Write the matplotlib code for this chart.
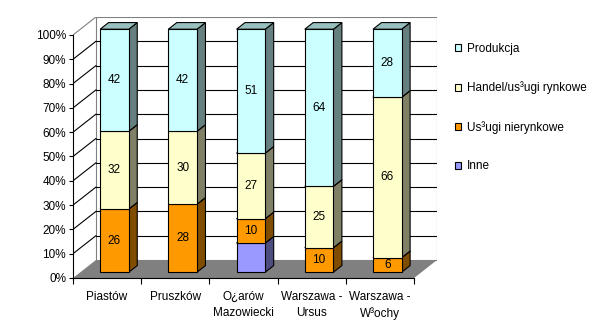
import numpy as np
import matplotlib.pyplot as plt
from matplotlib.patches import Polygon, Patch

plt.rcParams['font.family'] = ['Liberation Sans', 'DejaVu Sans']

#================================== Data =================================================================

categories = ['Piastów', 'Pruszków', 'O¿arów\nMazowiecki', 'Warszawa -\nUrsus', 'Warszawa -\nW³ochy']
series = ['Inne', 'Us³ugi nierynkowe', 'Handel/us³ugi rynkowe', 'Produkcja']
inne = [0, 0, 12, 0, 0]
uslugi_nierynkowe = [26, 28, 10, 10, 6]
handel = [32, 30, 27, 25, 66]
produkcja = [42, 42, 51, 64, 28]
show_labels = [False, True, True, True]

colors = ['#9999FF', '#FF9900', '#FFFFCC', '#CCFFFF']
yticks = np.arange(0, 101, 10)

#================================== Geometry =================================================================

DX = 0.336      # depth offset in category units
DY = 7.4        # depth offset in percent units
z_front, z_back = 0.32, 0.69
bar_w = 0.42

def shade(c, f):
    c = np.array([int(c[i:i + 2], 16) for i in (1, 3, 5)]) / 255.0
    return tuple(c * f)

def p(x, y, z):
    return (x + z * DX, y + z * DY)

fig = plt.figure(figsize=(6.16, 3.35), dpi=100)
ax = fig.add_axes([73 / 616, 57 / 335, 364 / 616, 261 / 335])
ax.set_xlim(0, 5 + DX)
ax.set_ylim(0, 100 + DY)
ax.patch.set_visible(False)

# floor
ax.add_patch(Polygon([p(0, 0, 0), p(5, 0, 0), p(5, 0, 1), p(0, 0, 1)],
                     closed=True, facecolor='#808080', edgecolor='none', zorder=1))
# back wall border
ax.add_patch(Polygon([p(0, 0, 1), p(5, 0, 1), p(5, 100, 1), p(0, 100, 1)],
                     closed=True, facecolor='none', edgecolor='#808080', lw=0.8, zorder=1))
# gridlines on back and side walls
for v in yticks[1:]:
    col = '#808080' if v == 100 else 'black'
    a, b = p(0, v, 0), p(0, v, 1)
    ax.plot([a[0], b[0]], [a[1], b[1]], color=col, lw=0.8, zorder=1)
    if v < 100:
        c = p(5, v, 1)
        ax.plot([b[0], c[0]], [b[1], c[1]], color='black', lw=0.8, zorder=1)

# bars
data = np.array([inne, uslugi_nierynkowe, handel, produkcja], dtype=float)
data_pct = data / data.sum(axis=0) * 100
for i in range(len(categories)):
    xl = i + 0.5 - bar_w / 2
    xr = i + 0.5 + bar_w / 2
    bottom = 0.0
    for s in range(len(series)):
        h = data_pct[s, i]
        if h <= 0:
            continue
        top = bottom + h
        c = colors[s]
        front = [p(xl, bottom, z_front), p(xr, bottom, z_front), p(xr, top, z_front), p(xl, top, z_front)]
        side = [p(xr, bottom, z_front), p(xr, bottom, z_back), p(xr, top, z_back), p(xr, top, z_front)]
        lid = [p(xl, top, z_front), p(xr, top, z_front), p(xr, top, z_back), p(xl, top, z_back)]
        ax.add_patch(Polygon(side, closed=True, facecolor=shade(c, 0.5), edgecolor='black', lw=0.8, zorder=3))
        ax.add_patch(Polygon(lid, closed=True, facecolor=shade(c, 0.75), edgecolor='black', lw=0.8, zorder=3))
        ax.add_patch(Polygon(front, closed=True, facecolor=c, edgecolor='black', lw=0.8, zorder=3))
        if show_labels[s]:
            cx, cy = p(i + 0.5, bottom + h / 2, z_front)
            ax.text(cx, cy, f'{data[s, i]:.0f}', ha='center', va='center', fontsize=8.5, zorder=4)
        bottom = top

# axes
for sp in ['top', 'right']:
    ax.spines[sp].set_visible(False)
ax.spines['left'].set_bounds(0, 100)
ax.spines['bottom'].set_bounds(0, 5)
ax.spines['left'].set_linewidth(0.8)
ax.spines['bottom'].set_linewidth(0.8)
ax.set_yticks(yticks)
ax.set_yticklabels([f'{v}%' for v in yticks], fontsize=8.5)
ax.set_xticks(np.arange(0, 6))
ax.set_xticklabels([])
ax.set_xticks(np.arange(len(categories)) + 0.5, minor=True)
ax.set_xticklabels(categories, minor=True, fontsize=8.5, linespacing=1.45)
ax.tick_params(axis='y', length=3, width=0.8, pad=2)
ax.tick_params(axis='x', which='major', length=4, width=0.8)
ax.tick_params(axis='x', which='minor', length=0, pad=9)

# legend
handles = [Patch(facecolor=colors[s], edgecolor='black', lw=0.8, label=series[s]) for s in range(3, -1, -1)]
fig.legend(handles=handles, loc='upper left', bbox_to_anchor=(455 / 616, 1 - 43 / 335),
           frameon=False, fontsize=8.5, handlelength=0.55, handleheight=0.55,
           handletextpad=0.45, labelspacing=2.25, borderpad=0, borderaxespad=0)

plt.savefig('out.png', dpi=100)
plt.close()
